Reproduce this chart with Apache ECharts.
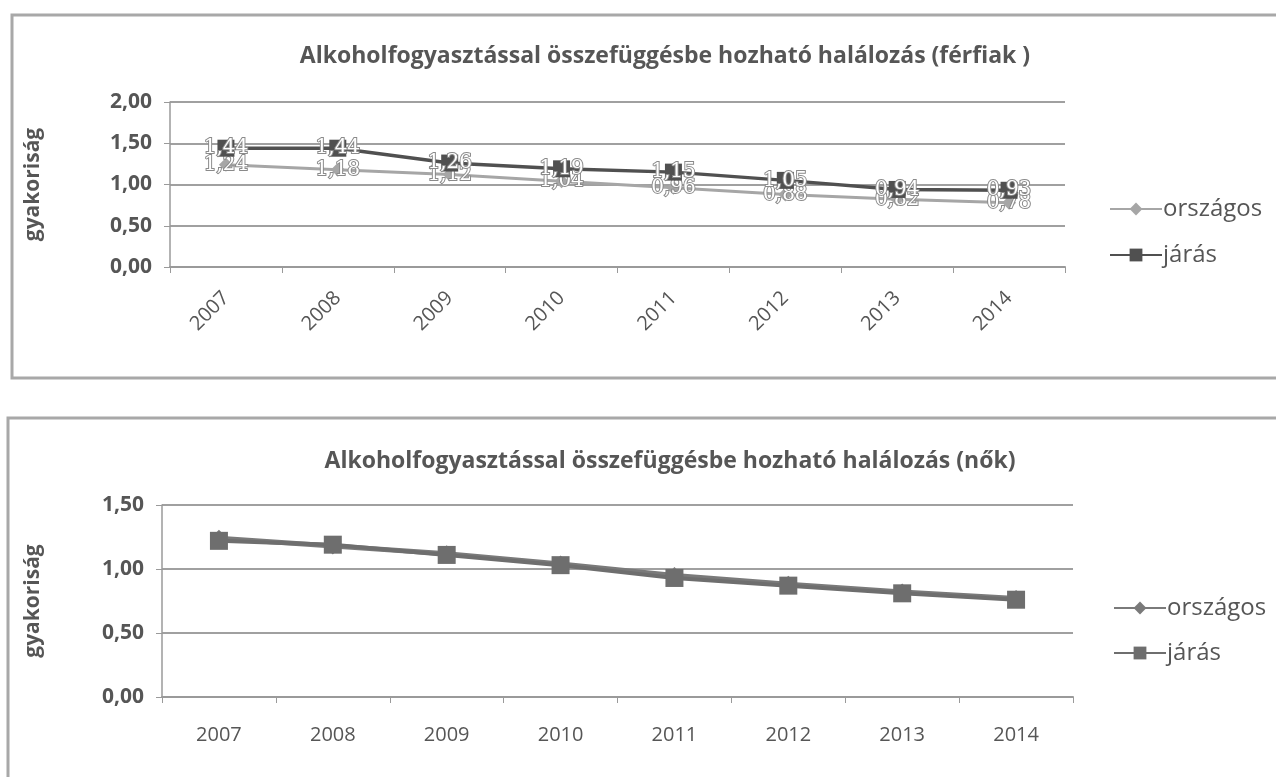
<!DOCTYPE html>
<html>
<head>
<meta charset="utf-8">
<script src="https://cdn.jsdelivr.net/npm/echarts@6/dist/echarts.min.js"></script>
<style>
html,body{margin:0;padding:0;background:#fff;}
#c{width:1276px;height:777px;}
</style>
</head>
<body>
<div id="c"></div>
<script>
var years = ['2007','2008','2009','2010','2011','2012','2013','2014'];
var menNational = [1.24, 1.18, 1.12, 1.04, 0.96, 0.88, 0.82, 0.78];
var menDistrict = [1.44, 1.44, 1.26, 1.19, 1.15, 1.05, 0.94, 0.93];
var womenNational = [1.24, 1.18, 1.12, 1.04, 0.95, 0.88, 0.82, 0.77];
var womenDistrict = [1.22, 1.19, 1.11, 1.03, 0.93, 0.87, 0.81, 0.76];
var titleTop = 'Alkoholfogyasztással összefüggésbe hozható halálozás (férfiak )';
var titleBottom = 'Alkoholfogyasztással összefüggésbe hozható halálozás (nők)';
var yName = 'gyakoriság';
var seriesNames = ['országos', 'járás'];

var FONT = '"Open Sans", "Noto Sans", sans-serif';
var TXT = '#565656';
function fmt(v){ return v.toFixed(2).replace('.', ','); }

var chart = echarts.init(document.getElementById('c'), null, {renderer:'canvas'});

function yAxis(gridIndex, max){
  return {
    type:'value', gridIndex:gridIndex, min:0, max:max, interval:0.5,
    name: yName, nameLocation:'middle', nameRotate:90,
    nameGap: gridIndex===0 ? 126 : 118,
    nameTextStyle:{fontFamily:FONT, fontWeight:'bold', fontSize:21, color:TXT},
    axisLine:{show:true, lineStyle:{color:'#9a9a9a', width:1.5}},
    axisTick:{show:true, length:6, lineStyle:{color:'#9a9a9a'}},
    axisLabel:{formatter:fmt, fontFamily:FONT, fontWeight:'bold', fontSize:21, color:TXT, margin:18},
    splitLine:{show:true, lineStyle:{color:'#a0a0a0', width:2}}
  };
}
function xAxis(gridIndex, rotate){
  return {
    type:'category', gridIndex:gridIndex, data:years, boundaryGap:true,
    axisLine:{show:true, lineStyle:{color:'#9a9a9a', width:2}},
    axisTick:{show:true, length:6, alignWithLabel:false, lineStyle:{color:'#9a9a9a'}},
    axisLabel:{rotate:rotate, fontFamily:FONT, fontSize:20, fontWeight:500, color:TXT, margin: rotate ? 28 : 28}
  };
}

var topLabel = {
  show:true, position:'inside', formatter:function(p){return fmt(p.value);},
  fontFamily:'"DejaVu Serif", serif', fontSize:20, color:'#ffffff',
  textBorderColor:'#8a8a8a', textBorderWidth:2
};

var option = {
  backgroundColor:'#ffffff',
  animation:false,
  title:[
    {text:titleTop, left:660, top:40, textAlign:'center',
     textStyle:{fontFamily:FONT, fontWeight:'bold', fontSize:23, color:TXT}},
    {text:titleBottom, left:665, top:445, textAlign:'center',
     textStyle:{fontFamily:FONT, fontWeight:'bold', fontSize:23, color:TXT}}
  ],
  legend:[
    {data:seriesNames, orient:'vertical', left:1104, top:192, itemGap:22, itemWidth:52, itemHeight:16,
     textStyle:{fontFamily:FONT, fontSize:24, color:TXT, padding:[0,0,0,-4]}},
    {data:[{name:'országos '}, {name:'járás '}], orient:'vertical', left:1108, top:591, itemGap:21, itemWidth:52, itemHeight:16,
     textStyle:{fontFamily:FONT, fontSize:24, color:TXT, padding:[0,0,0,-4]}}
  ],
  grid:[
    {left:170, top:102, width:895, height:165},
    {left:162, top:505, width:911, height:192}
  ],
  xAxis:[xAxis(0,45), xAxis(1,0)],
  yAxis:[yAxis(0,2), yAxis(1,1.5)],
  graphic:[
    {type:'rect', shape:{x:12, y:15, width:1275, height:363}, style:{fill:'none', stroke:'#a8a8a8', lineWidth:3}, z:-1},
    {type:'rect', shape:{x:8, y:418, width:1280, height:370}, style:{fill:'none', stroke:'#a8a8a8', lineWidth:3}, z:-1}
  ],
  series:[
    {name:'országos', type:'line', xAxisIndex:0, yAxisIndex:0, data:menNational,
     symbol:'diamond', symbolSize:14, lineStyle:{color:'#a6a6a6', width:3},
     itemStyle:{color:'#a6a6a6'}, label:topLabel, z:2},
    {name:'járás', type:'line', xAxisIndex:0, yAxisIndex:0, data:menDistrict,
     symbol:'rect', symbolSize:17, lineStyle:{color:'#505050', width:3.5},
     itemStyle:{color:'#505050'}, label:topLabel, z:3},
    {name:'országos ', type:'line', xAxisIndex:1, yAxisIndex:1, data:womenNational,
     symbol:'diamond', symbolSize:17, lineStyle:{color:'#7a7a7a', width:5},
     itemStyle:{color:'#7a7a7a'}, z:2},
    {name:'járás ', type:'line', xAxisIndex:1, yAxisIndex:1, data:womenDistrict,
     symbol:'rect', symbolSize:18, lineStyle:{color:'#6e6e6e', width:4},
     itemStyle:{color:'#6e6e6e'}, z:3}
  ]
};
chart.setOption(option);
</script>
</body>
</html>
